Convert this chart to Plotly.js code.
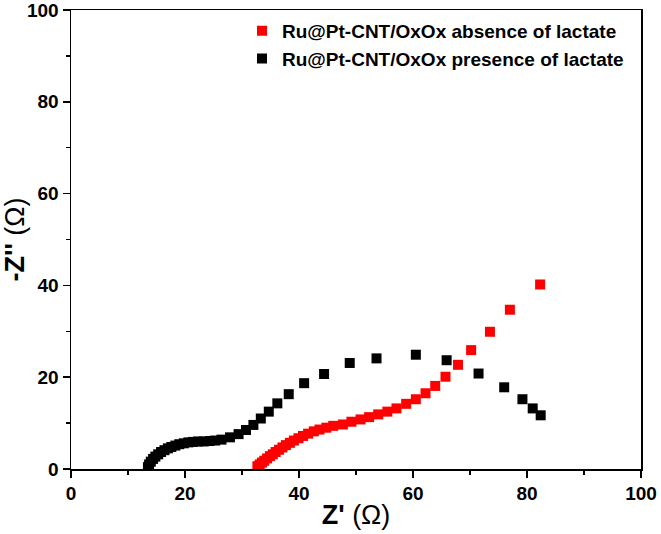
<!DOCTYPE html>
<html>
<head>
<meta charset="utf-8">
<script src="https://cdn.plot.ly/plotly-3.0.1.min.js"></script>
<style>html,body{margin:0;padding:0;background:#fff;}</style>
</head>
<body>
<div id="chart" style="width:661px;height:534px;"></div>
<script>
// Ru@Pt-CNT/OxOx absence of lactate (red)
const absenceX = [32.7,33.1,33.5,33.9,34.4,34.9,35.4,35.9,36.5,37.1,37.7,38.4,39.1,39.9,40.7,41.6,42.6,43.6,44.8,46.0,47.7,49.2,50.8,52.3,53.9,55.5,57.1,58.8,60.5,62.2,63.9,65.7,67.9,70.2,73.5,77.0,82.3];
const absenceY = [0.6,1.0,1.4,1.8,2.3,2.8,3.2,3.7,4.2,4.7,5.2,5.7,6.2,6.7,7.2,7.7,8.2,8.6,9.0,9.4,9.7,10.3,10.8,11.3,11.9,12.5,13.2,14.2,15.2,16.5,18.1,20.1,22.7,25.9,29.9,34.7,40.2];
// Ru@Pt-CNT/OxOx presence of lactate (black)
const presenceX = [13.5,13.7,14.0,14.4,14.8,15.3,15.8,16.4,17.0,17.6,18.3,19.0,19.8,20.6,21.4,22.3,23.3,24.3,25.3,26.4,27.9,29.4,30.7,32.0,33.3,34.7,36.2,38.2,40.9,44.4,48.9,53.6,60.5,65.9,71.5,76.0,79.2,81.0,82.4];
const presenceY = [0.4,1.0,1.6,2.2,2.7,3.2,3.7,4.1,4.5,4.8,5.1,5.4,5.6,5.8,5.9,6.0,6.0,6.1,6.2,6.4,6.9,7.6,8.5,9.6,11.0,12.5,14.3,16.3,18.7,20.7,23.1,24.1,24.9,23.7,20.8,17.8,15.2,13.2,11.7];
const seriesNames = ["Ru@Pt-CNT/OxOx absence of lactate", "Ru@Pt-CNT/OxOx presence of lactate"];
const tickVals = [0,20,40,60,80,100];

const FONT = "Liberation Sans, Arial, sans-serif";

const traces = [
  {x: absenceX, y: absenceY, name: seriesNames[0], type: "scatter", mode: "markers",
   marker: {symbol: "square", size: 10, color: "#ff0000"}},
  {x: presenceX, y: presenceY, name: seriesNames[1], type: "scatter", mode: "markers",
   marker: {symbol: "square", size: 10, color: "#000000"}}
];

const axisCommon = {
  range: [0, 100], tickvals: tickVals, ticktext: tickVals.map(String),
  showgrid: false, zeroline: false, showline: true, mirror: true,
  linecolor: "#000", linewidth: 1.5, ticks: "outside", ticklen: 7, tickwidth: 1.5, tickcolor: "#000",
  minor: {dtick: 10, ticks: "outside", ticklen: 4, tickwidth: 1.5, tickcolor: "#000"},
  tickfont: {family: FONT, size: 19, color: "#000", weight: "bold"},
  ticklabeloverflow: "allow",
  automargin: false, fixedrange: true
};

const layout = {
  width: 661, height: 534,
  margin: {l: 71, r: 20, t: 10, b: 65},
  paper_bgcolor: "#fff", plot_bgcolor: "#fff",
  showlegend: true,
  legend: {x: 0.3, y: 0.996, xanchor: "left", yanchor: "top", bgcolor: "rgba(0,0,0,0)",
           font: {family: FONT, size: 19, color: "#000", weight: "bold"}, tracegroupgap: 0},
  xaxis: Object.assign({}, axisCommon, {
    title: {text: "<b>Z'</b> (Ω)", font: {family: FONT, size: 27, color: "#000"}, standoff: 2}
  }),
  yaxis: Object.assign({}, axisCommon, {
    title: {text: "<b>-Z''</b> (Ω)", font: {family: FONT, size: 27, color: "#000"}, standoff: 0}
  })
};

Plotly.newPlot("chart", traces, layout, {staticPlot: true, displayModeBar: false});
</script>
</body>
</html>
